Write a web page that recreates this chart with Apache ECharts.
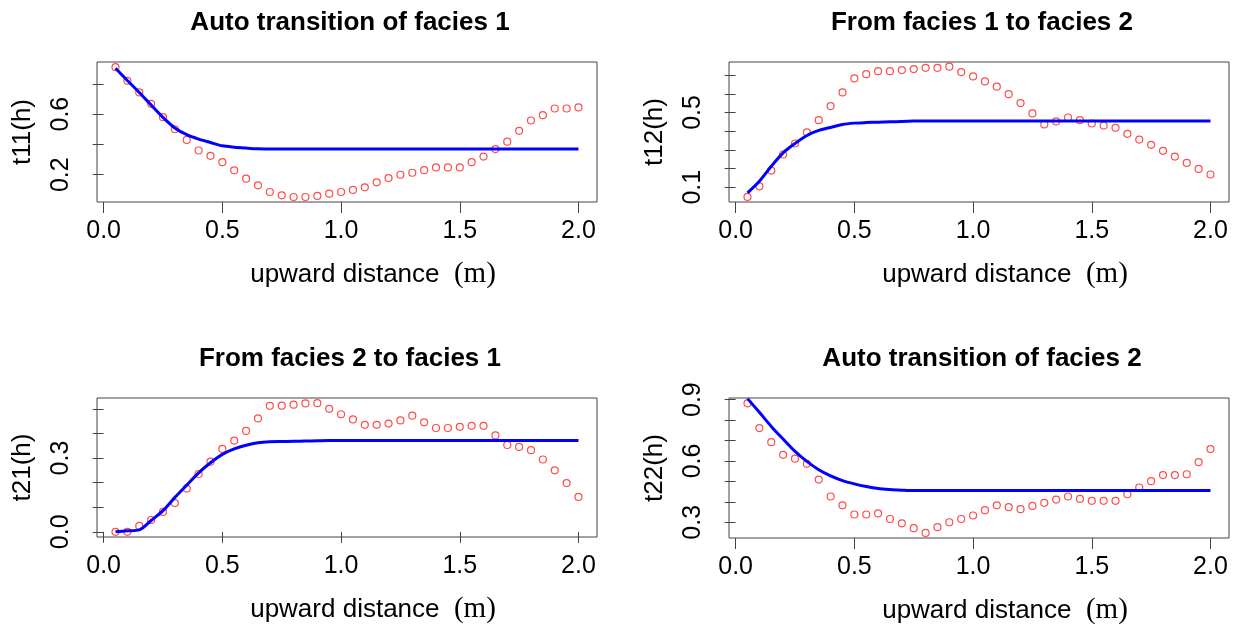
<!DOCTYPE html>
<html>
<head>
<meta charset="utf-8">
<script src="https://cdn.jsdelivr.net/npm/echarts@6/dist/echarts.min.js"></script>
<style>
  html, body { margin: 0; padding: 0; background: #fff; }
  #main { width: 1235px; height: 631px; }
</style>
</head>
<body>
<div id="main"></div>
<script>
var distance = [0.05, 0.10, 0.15, 0.20, 0.25, 0.30, 0.35, 0.40, 0.45, 0.50,
  0.55, 0.60, 0.65, 0.70, 0.75, 0.80, 0.85, 0.90, 0.95, 1.00,
  1.05, 1.10, 1.15, 1.20, 1.25, 1.30, 1.35, 1.40, 1.45, 1.50,
  1.55, 1.60, 1.65, 1.70, 1.75, 1.80, 1.85, 1.90, 1.95, 2.00];

// observed transition probabilities (red circles)
var t11Obs = [0.91, 0.82, 0.743, 0.668, 0.58, 0.50, 0.43, 0.36, 0.325, 0.283,
  0.229, 0.174, 0.13, 0.086, 0.064, 0.053, 0.053, 0.06, 0.075, 0.086,
  0.10, 0.117, 0.15, 0.178, 0.20, 0.213, 0.23, 0.248, 0.248, 0.248,
  0.283, 0.32, 0.369, 0.418, 0.49, 0.558, 0.593, 0.637, 0.637, 0.644];
var t12Obs = [0.048, 0.105, 0.189, 0.275, 0.334, 0.393, 0.459, 0.534, 0.607, 0.682,
  0.705, 0.721, 0.721, 0.727, 0.732, 0.739, 0.739, 0.745, 0.716, 0.693,
  0.666, 0.638, 0.598, 0.55, 0.495, 0.436, 0.452, 0.473, 0.459, 0.441,
  0.43, 0.418, 0.386, 0.355, 0.327, 0.295, 0.264, 0.23, 0.198, 0.168];
var t21Obs = [0.0, 0.0, 0.024, 0.048, 0.081, 0.117, 0.176, 0.235, 0.285, 0.337,
  0.371, 0.41, 0.461, 0.512, 0.513, 0.517, 0.522, 0.523, 0.50, 0.478,
  0.457, 0.435, 0.435, 0.44, 0.453, 0.472, 0.445, 0.422, 0.422, 0.427,
  0.431, 0.431, 0.392, 0.353, 0.345, 0.332, 0.294, 0.25, 0.198, 0.142];
var t22Obs = [0.882, 0.761, 0.692, 0.63, 0.611, 0.586, 0.509, 0.426, 0.383, 0.338,
  0.338, 0.343, 0.316, 0.295, 0.271, 0.248, 0.276, 0.30, 0.316, 0.333,
  0.359, 0.383, 0.374, 0.364, 0.38, 0.395, 0.411, 0.426, 0.414, 0.405,
  0.405, 0.405, 0.437, 0.47, 0.501, 0.531, 0.531, 0.535, 0.594, 0.658];

// fitted model curves (blue lines)
var t11Fit = [0.903, 0.822, 0.743, 0.66, 0.578, 0.508, 0.464, 0.435, 0.413, 0.391,
  0.382, 0.376, 0.371, 0.369, 0.369, 0.369, 0.369, 0.369, 0.369, 0.369,
  0.369, 0.369, 0.369, 0.369, 0.369, 0.369, 0.369, 0.369, 0.369, 0.369,
  0.369, 0.369, 0.369, 0.369, 0.369, 0.369, 0.369, 0.369, 0.369, 0.369];
var t12Fit = [0.07, 0.132, 0.212, 0.284, 0.334, 0.377, 0.404, 0.42, 0.436, 0.443,
  0.446, 0.448, 0.45, 0.452, 0.454, 0.455, 0.455, 0.455, 0.455, 0.455,
  0.455, 0.455, 0.455, 0.455, 0.455, 0.455, 0.455, 0.455, 0.455, 0.455,
  0.455, 0.455, 0.455, 0.455, 0.455, 0.455, 0.455, 0.455, 0.455, 0.455];
var t21Fit = [0.0, 0.004, 0.008, 0.046, 0.086, 0.14, 0.19, 0.24, 0.281, 0.315,
  0.337, 0.352, 0.362, 0.366, 0.367, 0.368, 0.369, 0.37, 0.371, 0.371,
  0.371, 0.371, 0.371, 0.371, 0.371, 0.371, 0.371, 0.371, 0.371, 0.371,
  0.371, 0.371, 0.371, 0.371, 0.371, 0.371, 0.371, 0.371, 0.371, 0.371];
var t22Fit = [0.905, 0.838, 0.769, 0.707, 0.647, 0.598, 0.557, 0.527, 0.504, 0.488,
  0.475, 0.465, 0.46, 0.457, 0.455, 0.455, 0.455, 0.455, 0.455, 0.455,
  0.455, 0.455, 0.455, 0.455, 0.455, 0.455, 0.455, 0.455, 0.455, 0.455,
  0.455, 0.455, 0.455, 0.455, 0.455, 0.455, 0.455, 0.455, 0.455, 0.455];

var titles = ['Auto transition of facies 1', 'From facies 1 to facies 2',
  'From facies 2 to facies 1', 'Auto transition of facies 2'];
var yNames = ['t11(h)', 't12(h)', 't21(h)', 't22(h)'];

var xTicks = [0, 0.5, 1, 1.5, 2];
var yTicks = [
  [0.2, 0.4, 0.6, 0.8],
  [0.1, 0.2, 0.3, 0.4, 0.5, 0.6, 0.7],
  [0, 0.1, 0.2, 0.3, 0.4, 0.5],
  [0.3, 0.4, 0.5, 0.6, 0.7, 0.8, 0.9]
];
var yLabels = [
  [0.2, 0.6],
  [0.1, 0.5],
  [0, 0.3],
  [0.3, 0.6, 0.9]
];
var yRange = [[0.02, 0.944], [0.021, 0.77], [-0.021, 0.544], [0.223, 0.908]];

var obs = [t11Obs, t12Obs, t21Obs, t22Obs];
var fit = [t11Fit, t12Fit, t21Fit, t22Fit];

var grids = [
  { left: 97, top: 62, width: 500, height: 140 },
  { left: 729, top: 62, width: 500, height: 140 },
  { left: 97, top: 398, width: 500, height: 139 },
  { left: 729, top: 398, width: 500, height: 140 }
];

var sans = 'Liberation Sans, Arial, sans-serif';
var lineCol = '#444';

var option = {
  backgroundColor: '#fff',
  animation: false,
  title: [],
  grid: [],
  xAxis: [],
  yAxis: [],
  series: []
};

grids.forEach(function (g, i) {
  option.grid.push({
    left: g.left, top: g.top, width: g.width, height: g.height,
    show: true, borderColor: lineCol, borderWidth: 1, backgroundColor: 'transparent'
  });
  option.title.push({
    text: titles[i],
    left: g.left + g.width / 2 - 2,
    top: g.top - 57,
    textAlign: 'center',
    textStyle: { fontFamily: sans, fontSize: 26, fontWeight: 'bold', color: '#000' }
  });
  option.xAxis.push({
    type: 'value', gridIndex: i, min: -0.028, max: 2.078,
    axisLine: { show: false },
    splitLine: { show: false },
    axisTick: { show: true, length: 11, customValues: xTicks, lineStyle: { color: lineCol } },
    axisLabel: {
      customValues: xTicks, margin: 17, fontFamily: sans, fontSize: 25, color: '#000',
      formatter: function (v) { return v.toFixed(1); }
    },
    name: '{a|upward distance}  {b|(m)}',
    nameLocation: 'middle',
    nameGap: 58,
    nameTextStyle: {
      padding: [0, 0, 0, 52],
      fontFamily: sans, fontSize: 26, color: '#000',
      rich: {
        a: { fontFamily: sans, fontSize: 26, color: '#000' },
        b: { fontFamily: 'Liberation Serif, Times New Roman, serif', fontSize: 29, color: '#000' }
      }
    }
  });
  option.yAxis.push({
    type: 'value', gridIndex: i, min: yRange[i][0], max: yRange[i][1],
    axisLine: { show: false },
    splitLine: { show: false },
    axisTick: { show: true, length: 11, customValues: yTicks[i], lineStyle: { color: lineCol } },
    axisLabel: {
      customValues: yLabels[i], rotate: 90, margin: 23, fontFamily: sans, fontSize: 25, color: '#000',
      formatter: function (v) { return v.toFixed(1); }
    },
    name: yNames[i],
    nameLocation: 'middle',
    nameRotate: 90,
    nameGap: 61,
    nameTextStyle: { fontFamily: sans, fontSize: 26, color: '#000' }
  });
  var pts = distance.map(function (d, k) { return [d, obs[i][k]]; });
  var crv = distance.map(function (d, k) { return [d, fit[i][k]]; });
  option.series.push({
    type: 'scatter', xAxisIndex: i, yAxisIndex: i, data: pts,
    symbol: 'circle', symbolSize: 7, z: 2,
    itemStyle: { color: 'rgba(0,0,0,0)', borderColor: '#ff2020', borderWidth: 1.2 }
  });
  option.series.push({
    type: 'line', xAxisIndex: i, yAxisIndex: i, data: crv,
    showSymbol: false, smooth: 0.3, z: 3,
    lineStyle: { color: '#0000ff', width: 3 }
  });
});

var myChart = echarts.init(document.getElementById('main'));
myChart.setOption(option);
</script>
</body>
</html>
